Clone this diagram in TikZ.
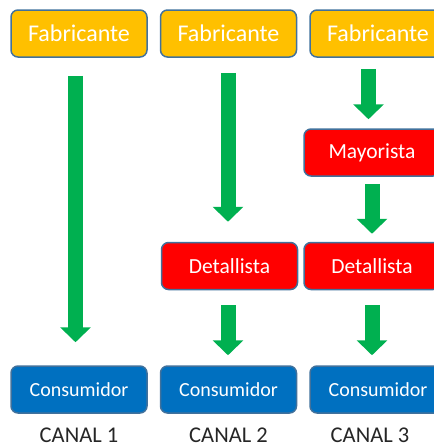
\documentclass[tikz,border=0pt]{standalone}
\usepackage{fontspec}
\setmainfont{Carlito}
\usetikzlibrary{arrows.meta, positioning}
\definecolor{FabYellow}{RGB}{255, 192, 0}
\definecolor{MidRed}{RGB}{255, 0, 0}
\definecolor{ConsBlue}{RGB}{0, 112, 192}
\definecolor{EdgeBlue}{RGB}{65, 113, 156}
\definecolor{FlowGreen}{RGB}{0, 176, 80}

\begin{document}
\begin{tikzpicture}[
        x=1pt, y=-1pt,
        % Base Box Style
        box/.style={
            rectangle,
            draw=EdgeBlue,
            line width=1.5pt,
            minimum width=136pt,
            minimum height=47pt,
            rounded corners=7pt,
            text=white,
            inner sep=0pt
        },
        fabStyle/.style={box, fill=FabYellow, font=\fontsize{24}{28}\selectfont},
        midStyle/.style={box, fill=MidRed, font=\fontsize{21.5}{25}\selectfont},
        consStyle/.style={box, fill=ConsBlue, font=\fontsize{20}{24}\selectfont},
        canalStyle/.style={font=\fontsize{22.5}{26}\selectfont, text=black!85, inner sep=0pt},
        % Flow Lines
        flow/.style={-{Triangle[length=15pt, width=30pt]}, line width=15pt, draw=FlowGreen}
    ]

    \useasboundingbox (0, 0) rectangle (434, 448);
    \clip (0, 0) rectangle (434, 448);

    % --- NODES ---
    \node[fabStyle] (fab1) at (79, 33.5) {Fabricante};
    \node[fabStyle] (fab2) at (228.5, 33.5) {Fabricante};
    \node[fabStyle] (fab3) at (378, 33.5) {Fabricante};

    \node[midStyle] (may3) at (372, 152.5) {Mayorista};
    \node[midStyle] (det2) at (229.5, 266) {Detallista};
    \node[midStyle] (det3) at (372, 266) {Detallista};

    \node[consStyle] (con1) at (79, 389.5) {Consumidor};
    \node[consStyle] (con2) at (228.5, 389.5) {Consumidor};
    \node[consStyle] (con3) at (378, 389.5) {Consumidor};

    % --- CHANNEL LABELS ---
    \node[canalStyle] (lab1) at (79, 435.5) {CANAL 1};
    \node[canalStyle] (lab2) at (228.5, 435.5) {CANAL 2};
    \node[canalStyle] (lab3) at (370, 435.5) {CANAL 3};

    % --- FLOWS ---
    % Canal 1: direct
    \draw[flow, shorten <=18pt, shorten >=23pt] ([xshift=-3.5pt]fab1.south) -- ([xshift=-3.5pt]con1.north);

    % Canal 2: via Detallista
    \draw[flow, shorten <=15pt, shorten >=20pt] ([xshift=-0.5pt]fab2.south) -- ([xshift=-1.5pt]det2.north);
    \draw[flow, shorten <=15pt, shorten >=10pt] ([xshift=-1.5pt]det2.south) -- ([xshift=-0.5pt]con2.north);

    % Canal 3: via Mayorista and Detallista
    \draw[flow, shorten <=11pt, shorten >=9pt] ([xshift=-9.5pt]fab3.south) -- ([xshift=-3.5pt]may3.north);
    \draw[flow, shorten <=7pt, shorten >=8pt] (may3.south) -- (det3.north);
    \draw[flow, shorten <=15pt, shorten >=10pt] (det3.south) -- ([xshift=-6pt]con3.north);

\end{tikzpicture}
\end{document}
